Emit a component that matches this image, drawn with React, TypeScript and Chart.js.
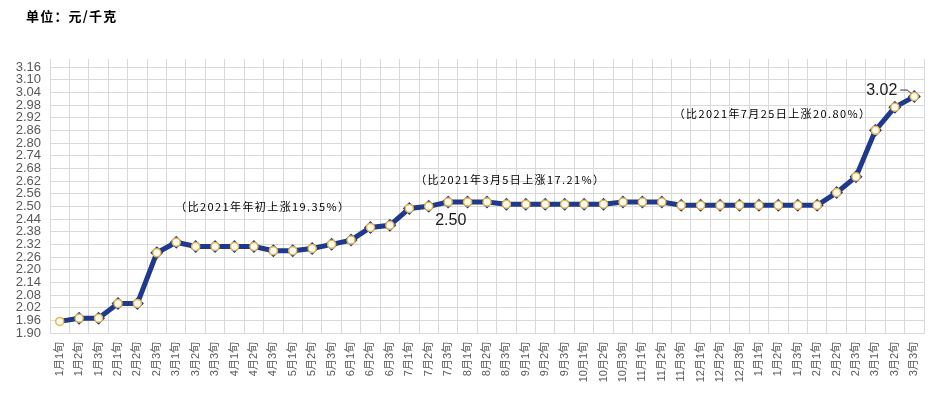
import { useEffect, useRef } from 'react';
import { Chart, registerables } from 'chart.js';

Chart.register(...registerables);

const title = '单位：元/千克';

const categories = [
  '1月1旬', '1月2旬', '1月3旬', '2月1旬', '2月2旬', '2月3旬', '3月1旬', '3月2旬', '3月3旬',
  '4月1旬', '4月2旬', '4月3旬', '5月1旬', '5月2旬', '5月3旬', '6月1旬', '6月2旬', '6月3旬',
  '7月1旬', '7月2旬', '7月3旬', '8月1旬', '8月2旬', '8月3旬', '9月1旬', '9月2旬', '9月3旬',
  '10月1旬', '10月2旬', '10月3旬', '11月1旬', '11月2旬', '11月3旬', '12月1旬', '12月2旬', '12月3旬',
  '1月1旬', '1月2旬', '1月3旬', '2月1旬', '2月2旬', '2月3旬', '3月1旬', '3月2旬', '3月3旬',
];

const prices = [
  1.955, 1.97, 1.97, 2.04, 2.04, 2.28, 2.33, 2.31, 2.31,
  2.31, 2.31, 2.29, 2.29, 2.30, 2.32, 2.34, 2.40, 2.41,
  2.49, 2.50, 2.52, 2.52, 2.52, 2.51, 2.51, 2.51, 2.51,
  2.51, 2.51, 2.52, 2.52, 2.52, 2.505, 2.505, 2.505, 2.505,
  2.505, 2.505, 2.505, 2.505, 2.565, 2.64, 2.86, 2.97, 3.02,
];

const yTickValues = [
  1.90, 1.96, 2.02, 2.08, 2.14, 2.20, 2.26, 2.32, 2.38, 2.44, 2.50,
  2.56, 2.62, 2.68, 2.74, 2.80, 2.86, 2.92, 2.98, 3.04, 3.10, 3.16,
];

const noteTexts = [
  '（比2021年年初上涨19.35%）',
  '（比2021年3月5日上涨17.21%）',
  '（比2021年7月25日上涨20.80%）',
];
// anchor of each note: category index and value on the y scale
const noteAnchors = [
  { at: 10.46, value: 2.497 },
  { at: 23.2, value: 2.628 },
  { at: 36.7, value: 2.939 },
];

const labelIndexes = [19, 44];
const labelTexts = ['2.50', '3.02'];

const GRID = '#d9d9d9';
const NAVY = '#1f3a8c';

const overlay = {
  id: 'overlay',
  afterDraw(chart: any) {
    const { ctx } = chart;
    const x = chart.scales.x;
    const y = chart.scales.y;
    ctx.save();
    ctx.fillStyle = '#000';
    ctx.textBaseline = 'middle';
    ctx.textAlign = 'left';
    ctx.font = 'bold 13px "Noto Sans CJK SC"';
    (ctx as any).letterSpacing = '1.2px';
    ctx.fillText(title, 26, 16);

    ctx.font = '11px "Noto Sans CJK SC"';
    (ctx as any).letterSpacing = '1.4px';
    ctx.fillStyle = '#000';
    ctx.textAlign = 'center';
    noteTexts.forEach((t, i) => {
      const a = noteAnchors[i];
      ctx.fillText(t, x.getPixelForValue(a.at), y.getPixelForValue(a.value));
    });
    (ctx as any).letterSpacing = '0px';

    const meta = chart.getDatasetMeta(0);
    ctx.font = '16px "Liberation Sans", Arial';
    ctx.fillStyle = '#1a1a1a';
    const p0 = meta.data[labelIndexes[0]];
    ctx.textAlign = 'center';
    ctx.fillText(labelTexts[0], p0.x + 22, p0.y + 14);
    const p1 = meta.data[labelIndexes[1]];
    ctx.textAlign = 'right';
    ctx.fillText(labelTexts[1], p1.x - 17, p1.y - 6);
    ctx.strokeStyle = '#333';
    ctx.lineWidth = 1;
    ctx.beginPath();
    ctx.moveTo(p1.x - 14, p1.y - 6.5);
    ctx.lineTo(p1.x - 7, p1.y - 6.5);
    ctx.lineTo(p1.x - 3, p1.y - 3);
    ctx.stroke();
    ctx.restore();
  },
};

export default function App() {
  const ref = useRef<HTMLCanvasElement | null>(null);

  useEffect(() => {
    if (!ref.current) return;
    const diamondRadius = prices.map((_, i) => (i === 0 ? 0 : 6.5));
    const chart = new Chart(ref.current, {
      type: 'line',
      data: {
        labels: categories,
        datasets: [
          {
            data: prices,
            borderColor: NAVY,
            borderWidth: 5,
            tension: 0,
            pointStyle: 'rectRot',
            pointRadius: diamondRadius,
            pointBackgroundColor: NAVY,
            pointBorderColor: NAVY,
            pointBorderWidth: 0,
            order: 1,
          },
          {
            data: prices,
            showLine: false,
            pointStyle: 'circle',
            pointRadius: 4,
            pointBackgroundColor: '#fffdf2',
            pointBorderColor: '#e6b44a',
            pointBorderWidth: 1.5,
            order: 0,
          },
        ],
      },
      options: {
        animation: false,
        responsive: true,
        maintainAspectRatio: false,
        layout: { padding: { top: 59, right: 15, bottom: 0, left: 0 } },
        plugins: { legend: { display: false }, tooltip: { enabled: false } },
        scales: {
          x: {
            type: 'category',
            offset: true,
            grid: { color: GRID, lineWidth: 1, drawTicks: false, offset: true },
            border: { color: GRID },
            ticks: {
              autoSkip: false,
              minRotation: 90,
              maxRotation: 90,
              padding: 9,
              color: '#595959',
              font: { size: 11, family: '"Liberation Sans", "Noto Sans CJK SC"' },
            },
            afterFit(scale: any) {
              scale.height = 74;
            },
          },
          y: {
            min: 1.9,
            max: 3.198,
            grid: { color: GRID, lineWidth: 1, drawTicks: false },
            border: { color: GRID },
            afterBuildTicks(scale: any) {
              scale.ticks = yTickValues.map((v) => ({ value: v }));
            },
            ticks: {
              autoSkip: false,
              padding: 9,
              color: '#595959',
              font: { size: 13, family: '"Liberation Sans", Arial' },
              callback: (v: any) => Number(v).toFixed(2),
            },
            afterFit(scale: any) {
              scale.width = 50;
            },
          },
        },
      },
      plugins: [overlay],
    });
    return () => chart.destroy();
  }, []);

  return (
    <div style={{ position: 'fixed', left: 0, top: 0, width: 939, height: 407, background: '#fff' }}>
      <canvas ref={ref} />
    </div>
  );
}
